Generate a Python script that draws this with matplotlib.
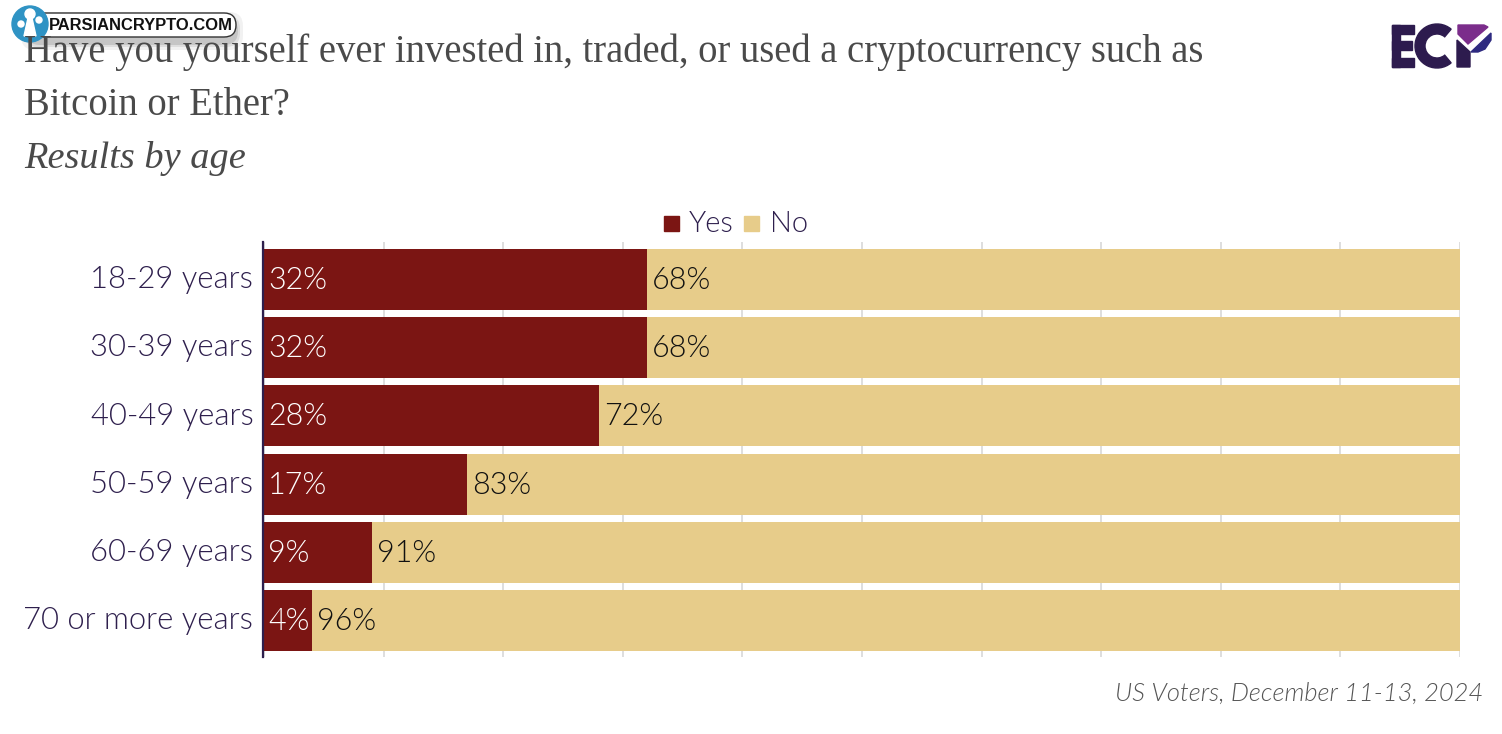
import matplotlib
matplotlib.use("Agg")
import matplotlib.pyplot as plt
from matplotlib import font_manager as fm
from matplotlib.patches import Circle, FancyBboxPatch, Polygon, Rectangle, Wedge
from matplotlib.transforms import ScaledTranslation

ages = ["18-29 years", "30-39 years", "40-49 years", "50-59 years", "60-69 years", "70 or more years"]
yes_vals = [32, 32, 28, 17, 9, 4]
no_vals = [68, 68, 72, 83, 91, 96]

W, H = 1502, 734
RED = "#7b1513"
TAN = "#e7cc8a"
NAVY = "#2e1f4d"
GREY = "#4a4a4a"
LOGO = "#2d1b4e"


# weight="light" ends up on Lato Hairline, so look the file up by name
def lato(name):
    for f in fm.fontManager.ttflist:
        if f.fname.endswith(name):
            return fm.FontProperties(fname=f.fname)
    return fm.FontProperties(family="Lato")


plt.rcParams["font.family"] = ["Lato", "DejaVu Sans"]
light = lato("Lato-Light.ttf")
light_it = lato("Lato-LightItalic.ttf")


def lt(size, prop=light):
    p = prop.copy()
    p.set_size(size)
    return p


fig = plt.figure(figsize=(W / 100, H / 100), dpi=100, facecolor="white")
ax = fig.add_axes([264 / W, 1 - 657 / H, (1460 - 264) / W, (657 - 242) / H])

# set_position resets the ticks, so it has to come before the tick styling
ax.spines["left"].set_position(("outward", 0.7))

ax.barh(ages, yes_vals, height=0.895, color=RED, zorder=3)
ax.barh(ages, no_vals, left=yes_vals, height=0.895, color=TAN, zorder=3)
ax.set_xlim(0, 100)
ax.set_ylim(5.535, -0.55)

ax.set_xticks(range(0, 101, 10))
ax.grid(axis="x", color="#d8d8d8", lw=1.2, zorder=1)
ax.set_axisbelow(True)
ax.tick_params(axis="x", length=0, labelbottom=False)
ax.tick_params(axis="y", length=0, pad=7, labelcolor=NAVY)
up = ScaledTranslation(0, 2 / 72, fig.dpi_scale_trans)
for lab in ax.get_yticklabels():
    lab.set_fontproperties(lt(22.3))
    lab.set_transform(lab.get_transform() + up)
for s in ["top", "right", "bottom"]:
    ax.spines[s].set_visible(False)
ax.spines["left"].set_color(NAVY)
ax.spines["left"].set_linewidth(1.6)
ax.spines["left"].set_zorder(5)

for i in range(len(ages)):
    ax.annotate(f"{yes_vals[i]}%", (0, i), xytext=(4, 2), textcoords="offset pixels",
                va="center_baseline", color="white", fontproperties=lt(22), zorder=6)
    ax.annotate(f"{no_vals[i]}%", (yes_vals[i], i), xytext=(5, 2), textcoords="offset pixels",
                va="center_baseline", color="#111111", fontproperties=lt(22), zorder=6)

# overlay in pixel coordinates for header, legend, logo, badge
ov = fig.add_axes([0, 0, 1, 1], zorder=10)
ov.set_xlim(0, W)
ov.set_ylim(H, 0)
ov.axis("off")
ov.patch.set_alpha(0)

serif = ["Liberation Serif", "DejaVu Serif"]
ov.text(24, 62, "Have you yourself ever invested in, traded, or used a cryptocurrency such as",
        family=serif, fontsize=27.85, color=GREY)
ov.text(24, 115, "Bitcoin or Ether?", family=serif, fontsize=27.85, color=GREY)
ov.text(24, 168, "Results by age", family=serif, fontsize=27.6, style="italic", color=GREY)

# legend
ov.add_patch(Rectangle((664, 216), 15, 15, color=RED))
ov.text(689, 232, "Yes", color=NAVY, fontproperties=lt(21))
ov.add_patch(Rectangle((744, 216), 15, 15, color=TAN))
ov.text(770, 232, "No", color=NAVY, fontproperties=lt(21))

ov.text(1483, 701, "US Voters, December 11-13, 2024", ha="right",
        color="#555555", fontproperties=lt(18.35, light_it))

# ECP logo
ov.add_patch(Rectangle((1392, 25), 8, 42, color=LOGO))
ov.add_patch(Rectangle((1392, 25), 22, 9, color=LOGO))
ov.add_patch(Rectangle((1392, 41), 20, 9, color=LOGO))
ov.add_patch(Rectangle((1392, 58), 22, 9, color=LOGO))
ov.add_patch(Wedge((1437, 46), 22, 50, 310, width=10, color=LOGO))
ov.add_patch(Polygon([(1457, 40), (1470, 52), (1470, 67), (1457, 67)], color=LOGO))
ov.add_patch(Polygon([(1458, 25), (1484, 25), (1488, 27), (1468, 44), (1458, 34)], color="#7b2d8b"))
ov.add_patch(Polygon([(1471, 52), (1491, 33), (1491, 40), (1485, 49), (1478, 52)], color="#2e2a80"))

# watermark badge, shadow first
for grow, a in [(7, 0.08), (4, 0.12), (2, 0.18)]:
    ov.add_patch(FancyBboxPatch((28 - grow, 15 - grow + 4), 208 + 2 * grow, 24 + 2 * grow,
                                boxstyle="round,pad=0,rounding_size=14",
                                fc="#555555", ec="none", alpha=a))
ov.add_patch(FancyBboxPatch((28, 13), 208, 24, boxstyle="round,pad=0,rounding_size=12",
                            fc="white", ec="#333333", lw=1))
ov.text(49, 25.5, "PARSIANCRYPTO.COM", fontsize=11.9, va="center", color="#111111",
        family=["Liberation Sans", "DejaVu Sans"], fontweight="bold")
ov.add_patch(Circle((30, 24), 18, color="#2f93c4"))
ov.add_patch(Circle((30, 14), 5, color="white"))
ov.add_patch(Circle((39, 20), 3, color="white"))
ov.add_patch(Circle((21, 24), 3, color="white"))
ov.add_patch(Polygon([(28, 18), (32, 18), (36, 36), (24, 36)], color="white"))

fig.savefig("out.png", dpi=100)
